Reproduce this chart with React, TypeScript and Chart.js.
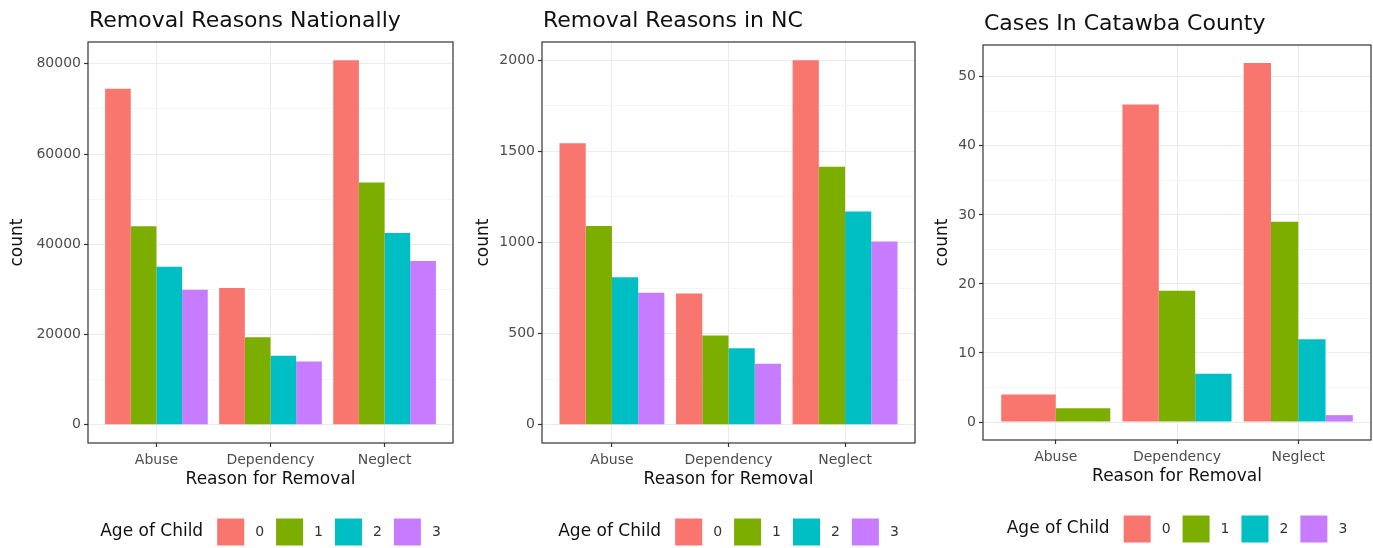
import React, { useEffect, useRef } from 'react';
import { Chart, registerables } from 'chart.js';

Chart.register(...registerables);

// ---------- data ----------
const reasons = ['Abuse', 'Dependency', 'Neglect'];
const ageLabels = ['0', '1', '2', '3'];
const ageColors = ['#F8766D', '#7CAE00', '#00BFC4', '#C77CFF'];

const nationalAge0 = [74500, 30300, 80800];
const nationalAge1 = [44000, 19400, 53700];
const nationalAge2 = [35000, 15300, 42500];
const nationalAge3 = [29900, 14000, 36300];
const nationalMajorTicks = [0, 20000, 40000, 60000, 80000];
const nationalMinorTicks = [10000, 30000, 50000, 70000];

const ncAge0 = [1545, 720, 2000];
const ncAge1 = [1090, 490, 1415];
const ncAge2 = [810, 420, 1170];
const ncAge3 = [725, 335, 1005];
const ncMajorTicks = [0, 500, 1000, 1500, 2000];
const ncMinorTicks = [250, 750, 1250, 1750];

const catawbaAge0 = [4, 46, 52];
const catawbaAge1 = [2, 19, 29];
const catawbaAge2 = [null, 7, 12];
const catawbaAge3 = [null, null, 1];
const catawbaMajorTicks = [0, 10, 20, 30, 40, 50];
const catawbaMinorTicks = [5, 15, 25, 35, 45];

// ---------- styling / layout ----------
const FONT = "'DejaVu Sans', 'Liberation Sans', sans-serif";
const H = 548;

type PanelSpec = {
  title: string;
  series: (number | null)[][];
  major: number[];
  minor: number[];
  left: number;
  width: number;
  padLeft: number;
  yAxisWidth: number;
  padRight: number;
  top: number;
  bottom: number;
};

const panels: PanelSpec[] = [
  {
    title: 'Removal Reasons Nationally',
    series: [nationalAge0, nationalAge1, nationalAge2, nationalAge3],
    major: nationalMajorTicks,
    minor: nationalMinorTicks,
    left: 0, width: 458, padLeft: 3, yAxisWidth: 85, padRight: 5, top: 42, bottom: 443,
  },
  {
    title: 'Removal Reasons in NC',
    series: [ncAge0, ncAge1, ncAge2, ncAge3],
    major: ncMajorTicks,
    minor: ncMinorTicks,
    left: 458, width: 460, padLeft: 11, yAxisWidth: 73, padRight: 3, top: 42, bottom: 443,
  },
  {
    title: 'Cases In Catawba County',
    series: [catawbaAge0, catawbaAge1, catawbaAge2, catawbaAge3],
    major: catawbaMajorTicks,
    minor: catawbaMinorTicks,
    left: 918, width: 455, padLeft: 10, yAxisWidth: 55, padRight: 2, top: 45, bottom: 440,
  },
];

const X_AXIS_HEIGHT = 51;

const panelDecor = {
  id: 'panelDecor',
  afterDatasetsDraw(chart: any) {
    const { ctx, chartArea } = chart;
    ctx.save();
    ctx.strokeStyle = '#333333';
    ctx.lineWidth = 1.2;
    ctx.strokeRect(chartArea.left, chartArea.top, chartArea.right - chartArea.left, chartArea.bottom - chartArea.top);
    ctx.restore();
  },
  afterDraw(chart: any, _args: any, opts: any) {
    const { ctx, chartArea } = chart;
    ctx.save();
    // title
    ctx.font = `22px ${FONT}`;
    ctx.fillStyle = '#111111';
    ctx.textBaseline = 'alphabetic';
    ctx.textAlign = 'left';
    ctx.fillText(opts.title, chartArea.left + 1, chartArea.top - 15);

    // legend
    const legendTitle = 'Age of Child';
    const titleFont = `17px ${FONT}`;
    const labelFont = `14px ${FONT}`;
    const box = 27;
    const cy = chartArea.bottom + 89;
    ctx.font = titleFont;
    const titleW = ctx.measureText(legendTitle).width;
    ctx.font = labelFont;
    const datasets = chart.data.datasets;
    const labelWs = datasets.map((d: any) => ctx.measureText(d.label).width);
    let total = titleW + 14;
    labelWs.forEach((w: number, i: number) => {
      total += box + 11 + w + (i < labelWs.length - 1 ? 12 : 0);
    });
    let x = (chartArea.left + chartArea.right) / 2 - total / 2;
    ctx.textBaseline = 'middle';
    ctx.font = titleFont;
    ctx.fillStyle = '#111111';
    ctx.fillText(legendTitle, x, cy);
    x += titleW + 14;
    ctx.font = labelFont;
    datasets.forEach((d: any, i: number) => {
      ctx.fillStyle = d.backgroundColor;
      ctx.fillRect(x, cy - box / 2, box, box);
      x += box + 11;
      ctx.fillStyle = '#333333';
      ctx.fillText(d.label, x, cy);
      x += labelWs[i] + 12;
    });
    ctx.restore();
  },
};

function Panel({ spec }: { spec: PanelSpec }) {
  const ref = useRef<HTMLCanvasElement>(null);
  useEffect(() => {
    if (!ref.current) return;
    const allVals = spec.series.flat().filter((v) => v !== null) as number[];
    const dataMax = Math.max(...allVals);
    const yMin = -0.05 * dataMax;
    const yMax = 1.05 * dataMax;
    const isMajor = (v: any) => spec.major.includes(v);

    const chart = new Chart(ref.current, {
      type: 'bar',
      data: {
        datasets: spec.series.map((arr, si) => ({
          label: ageLabels[si],
          data: reasons.map((_, i) => ({ x: i, y: arr[i] })),
          backgroundColor: ageColors[si],
          borderWidth: 0,
          categoryPercentage: 0.9,
          barPercentage: 1,
          skipNull: true,
        })),
      },
      options: {
        responsive: false,
        maintainAspectRatio: false,
        animation: false,
        devicePixelRatio: 1,
        events: [],
        layout: {
          padding: {
            left: spec.padLeft,
            right: spec.padRight,
            top: spec.top,
            bottom: H - spec.bottom - X_AXIS_HEIGHT,
          },
        },
        plugins: {
          legend: { display: false },
          tooltip: { enabled: false },
          title: { display: false },
          panelDecor: { title: spec.title },
        } as any,
        scales: {
          x: {
            type: 'linear',
            min: -0.6,
            max: 2.6,
            offset: false,
            afterBuildTicks: (s: any) => {
              s.ticks = reasons.map((_, i) => ({ value: i }));
            },
            afterFit: (s: any) => {
              s.height = X_AXIS_HEIGHT;
            },
            grid: {
              color: '#EBEBEB',
              lineWidth: 1,
              offset: false,
              drawTicks: true,
              tickLength: 4,
              tickColor: '#333333',
              tickWidth: 1.2,
            },
            border: { display: false },
            ticks: {
              callback: (v: any) => reasons[v] ?? '',
              color: '#4D4D4D',
              font: { family: FONT, size: 14 },
              autoSkip: false,
              maxRotation: 0,
              padding: 5,
            },
            title: {
              display: true,
              text: 'Reason for Removal',
              color: '#111111',
              font: { family: FONT, size: 17 },
              padding: { top: 4, bottom: 4 },
            },
          },
          y: {
            type: 'linear',
            min: yMin,
            max: yMax,
            afterBuildTicks: (s: any) => {
              s.ticks = [...spec.major, ...spec.minor].sort((a, b) => a - b).map((v) => ({ value: v }));
            },
            afterFit: (s: any) => {
              s.width = spec.yAxisWidth;
            },
            grid: {
              color: (c: any) => (isMajor(c.tick?.value) ? '#EBEBEB' : '#F5F5F5'),
              lineWidth: 1,
              drawTicks: true,
              tickLength: 4,
              tickColor: (c: any) => (isMajor(c.tick?.value) ? '#333333' : 'rgba(0,0,0,0)'),
              tickWidth: 1.2,
            },
            border: { display: false },
            ticks: {
              callback: (v: any) => (isMajor(v) ? String(v) : ''),
              color: '#4D4D4D',
              font: { family: FONT, size: 14 },
              autoSkip: false,
              padding: 3,
            },
            title: {
              display: true,
              text: 'count',
              color: '#111111',
              font: { family: FONT, size: 17 },
              padding: { top: 4, bottom: 4 },
            },
          },
        },
      } as any,
      plugins: [panelDecor as any],
    });
    return () => chart.destroy();
  }, [spec]);

  return (
    <canvas
      ref={ref}
      width={spec.width}
      height={H}
      style={{ position: 'absolute', left: spec.left, top: 0, width: spec.width, height: H }}
    />
  );
}

export default function App() {
  return (
    <div
      style={{
        position: 'fixed',
        left: 0,
        top: 0,
        width: 1373,
        height: H,
        background: '#ffffff',
        overflow: 'hidden',
      }}
    >
      {panels.map((p) => (
        <Panel key={p.title} spec={p} />
      ))}
    </div>
  );
}
